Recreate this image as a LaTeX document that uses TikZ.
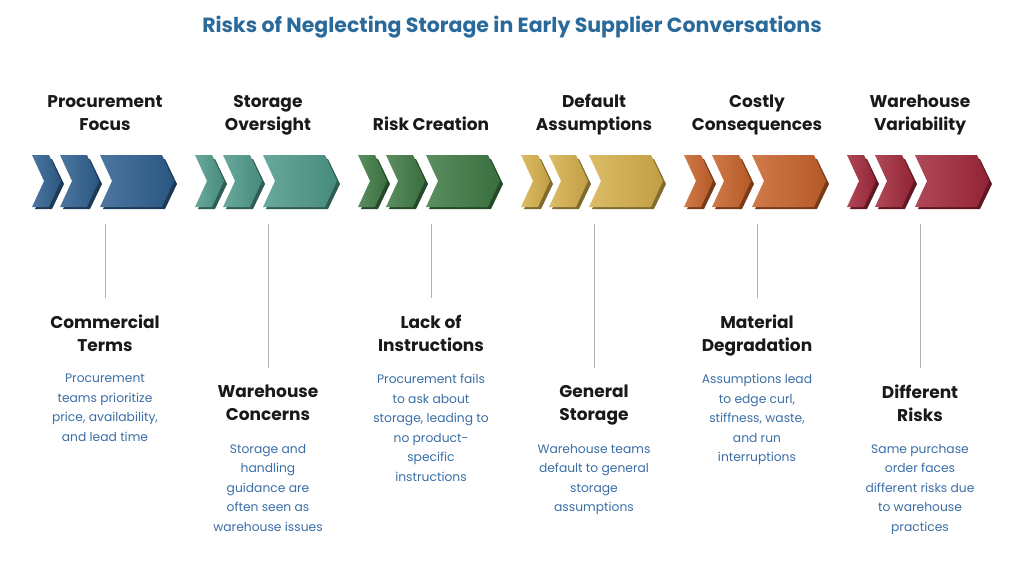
\documentclass[tikz,border=0pt]{standalone}
\usepackage{fontspec}
\setmainfont{Poppins}
\begin{document}
\begin{tikzpicture}[x=1pt,y=-1pt,
 hd/.style={font=\fontsize{17}{23}\selectfont\bfseries,align=center,text=black!90,inner sep=0pt,execute at end node={\strut}},
 bd/.style={font=\fontsize{12.3}{19.5}\selectfont,align=center,text=body,inner sep=0pt},
 ln/.style={draw=gray!60,line width=1pt}]
\definecolor{body}{HTML}{3A6EA5}
\definecolor{ttl}{HTML}{2A6A9A}
\definecolor{c1}{HTML}{2E5F8F}\definecolor{c2}{HTML}{4E9A8A}\definecolor{c3}{HTML}{3F7A44}
\definecolor{c4}{HTML}{D6B04C}\definecolor{c5}{HTML}{C8632A}\definecolor{c6}{HTML}{A2283A}
\useasboundingbox (0,0) rectangle (1024,560);
\node[font=\fontsize{20.5}{24}\selectfont\bfseries,text=ttl] (t) at (512,27) {Risks of Neglecting Storage in Early Supplier Conversations};
\newcommand{\chev}[4]{%
 \fill[#3!60!black] (#1+3,159)--(#1+#2+3,159)--(#1+#2+15,184)--(#1+#2+3,209)--(#1+3,209)--(#1+15,184)--cycle;
 \shade[left color=#3!85!white,right color=#3!90!black] (#1,155)--(#1+#2,155)--(#1+#2+12,181)--(#1+#2,207)--(#1,207)--(#1+12,181)--cycle;}
\foreach \c/\col [count=\i] in {105/c1,268/c2,431/c3,594/c4,757/c5,920/c6}{
 \chev{\c-73}{17}{\col}{}
 \chev{\c-45}{27}{\col}{}
 \chev{\c-5}{62}{\col}{}
}
\foreach \c/\t [count=\i] in {105/{Procurement\\Focus},268/{Storage\\Oversight},431/{Risk Creation},594/{Default\\Assumptions},757/{Costly\\Consequences},920/{Warehouse\\Variability}}
 \node[hd,anchor=south] (h\i) at (\c,138) {\t};
\foreach \c/\y/\e/\t/\b [count=\i] in {
 105/315/298/{Commercial\\Terms}/{Procurement\\teams prioritize\\price, availability,\\and lead time},
 268/385/368/{Warehouse\\Concerns}/{Storage and\\handling\\guidance are\\often seen as\\warehouse issues},
 431/315/298/{Lack of\\Instructions}/{Procurement fails\\to ask about\\storage, leading to\\no product-\\specific\\instructions},
 594/385/368/{General\\Storage}/{Warehouse teams\\default to general\\storage\\assumptions},
 757/315/298/{Material\\Degradation}/{Assumptions lead\\to edge curl,\\stiffness, waste,\\and run\\interruptions},
 920/385/368/{Different\\Risks}/{Same purchase\\order faces\\different risks due\\to warehouse\\practices}}{
 \node[hd,anchor=north] (l\i) at (\c,\y) {\t};
 \node[bd,anchor=north] (b\i) at (\c,\y+59) {\b};
 \coordinate (top\i) at (\c,224);
 \coordinate (bot\i) at (\c,\e);
 \draw[ln] (top\i) -- (bot\i);
}
\end{tikzpicture}
\end{document}
